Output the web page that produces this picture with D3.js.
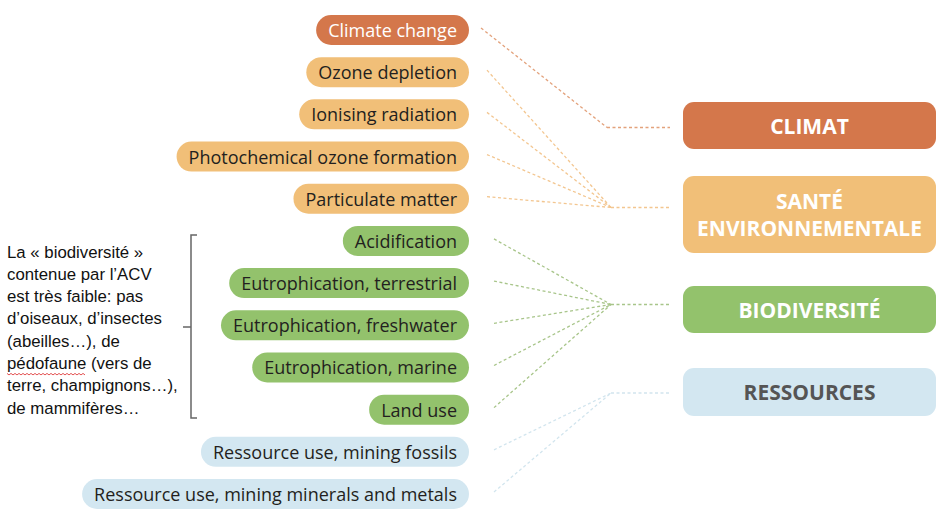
<!DOCTYPE html>
<html>
<head>
<meta charset="utf-8">
<script src="https://cdn.jsdelivr.net/npm/d3@7"></script>
<style>
  body { margin: 0; background: #fff; }
  svg { display: block; }
</style>
</head>
<body>
<script>
// impact categories (left pills) and the area of protection each one feeds
const impacts = [
  "Climate change",
  "Ozone depletion",
  "Ionising radiation",
  "Photochemical ozone formation",
  "Particulate matter",
  "Acidification",
  "Eutrophication, terrestrial",
  "Eutrophication, freshwater",
  "Eutrophication, marine",
  "Land use",
  "Ressource use, mining fossils",
  "Ressource use, mining minerals and metals"
];
const impactGroup = [0, 1, 1, 1, 1, 2, 2, 2, 2, 2, 3, 3];

const groups = [["CLIMAT"], ["SANTÉ", "ENVIRONNEMENTALE"], ["BIODIVERSITÉ"], ["RESSOURCES"]];
const groupFill = ["#d4774b", "#f1bf78", "#93c26c", "#d3e7f1"];
const groupText = ["#fff", "#fff", "#fff", "#555"];
const linkColor = ["#e3a27c", "#f3c690", "#a8c58a", "#d2e5ee"];

const note = [
  "La « biodiversité »",
  "contenue par l’ACV",
  "est très faible: pas",
  "d’oiseaux, d’insectes",
  "(abeilles…), de",
  "pédofaune (vers de",
  "terre, champignons…),",
  "de mammifères…"
];

const W = 938, H = 511;
const svg = d3.select("body").append("svg").attr("width", W).attr("height", H);

const y = d3.scalePoint().domain(d3.range(impacts.length)).range([30, 494]);
const pillRight = 469, pillH = 30, padX = 12;

// right boxes stacked
const boxX = 683, boxW = 253;
const boxH = [47, 77, 47, 48], boxGap = [27, 33, 35];
const hubShift = [2, -7, -5, 1];
let boxTop = 102;
const boxes = groups.map((g, i) => {
  const b = {top: boxTop, h: boxH[i], cy: boxTop + boxH[i] / 2};
  boxTop += boxH[i] + (boxGap[i] || 0);
  return b;
});

// links
const hubX = 611, linkEnd = 670;
const hubY = gi => boxes[gi].cy + hubShift[gi];
const dash = p => gl.append("path").attr("d", d3.line()(p))
  .attr("fill", "none").attr("stroke-width", 1.3).attr("stroke-dasharray", "3,2.5");
const gl = svg.append("g");
impacts.forEach((d, i) => {
  const gi = impactGroup[i];
  const sx = gi === 0 ? 481 : (gi >= 2 ? 494 : 487);
  dash([[sx, y(i) - 2], [hubX - (gi === 0 ? 4 : 0), hubY(gi)]]).attr("stroke", linkColor[gi]);
});
boxes.forEach((b, gi) => {
  dash([[hubX - (gi === 0 ? 4 : 0), hubY(gi)], [linkEnd, hubY(gi)]]).attr("stroke", linkColor[gi]);
});

// pills
const pills = svg.append("g").selectAll("g").data(impacts).join("g");
const labels = pills.append("text")
  .attr("x", pillRight - padX).attr("y", (d, i) => y(i))
  .attr("text-anchor", "end").attr("dominant-baseline", "central")
  .attr("font-family", "'Open Sans', sans-serif").attr("font-size", 18)
  .attr("fill", (d, i) => impactGroup[i] === 0 ? "#fff" : "#231f20")
  .text(d => d);
labels.each(function(d, i) {
  const w = this.getComputedTextLength() + padX * 2;
  d3.select(this.parentNode).insert("rect", "text")
    .attr("x", pillRight - w).attr("y", y(i) - pillH / 2)
    .attr("width", w).attr("height", pillH)
    .attr("rx", pillH / 2)
    .attr("fill", groupFill[impactGroup[i]]);
});

// group boxes
const gb = svg.append("g").selectAll("g").data(groups).join("g");
gb.append("rect")
  .attr("x", boxX).attr("y", (d, i) => boxes[i].top)
  .attr("width", boxW).attr("height", (d, i) => boxes[i].h)
  .attr("rx", 11).attr("fill", (d, i) => groupFill[i]);
gb.each(function(g, i) {
  g.forEach((line, k) => {
    d3.select(this).append("text")
      .attr("x", boxX + boxW / 2)
      .attr("y", boxes[i].cy + (k - (g.length - 1) / 2) * 27)
      .attr("text-anchor", "middle").attr("dominant-baseline", "central")
      .attr("font-family", "'Open Sans', sans-serif").attr("font-weight", 700)
      .attr("font-size", 21).attr("fill", groupText[i])
      .text(line);
  });
});

// bracket
svg.append("path")
  .attr("d", "M197,235H191V418H197M191,327H183")
  .attr("fill", "none").attr("stroke", "#666").attr("stroke-width", 1.5);

// side note
const noteFont = 16.8;
const ny = d3.scalePoint().domain(d3.range(note.length)).range([252, 408]);
svg.append("g").selectAll("text").data(note).join("text")
  .attr("x", 7).attr("y", (d, i) => ny(i))
  .attr("dominant-baseline", "central")
  .attr("font-family", "'Liberation Sans', sans-serif").attr("font-size", noteFont)
  .attr("fill", "#111").text(d => d);

// spell-check squiggle under "pédofaune"
const tmp = svg.append("text").attr("font-family", "'Liberation Sans', sans-serif")
  .attr("font-size", noteFont).text("pédofaune");
const pw = tmp.node().getComputedTextLength();
tmp.remove();
const sq = [];
for (let x = 7, k = 0; x <= 7 + pw; x += 2, k++) sq.push([x, ny(5) + 10 + (k % 2 ? 1.5 : 0)]);
svg.append("path").attr("d", d3.line()(sq))
  .attr("fill", "none").attr("stroke", "#e04040").attr("stroke-width", 0.9);
</script>
</body>
</html>
